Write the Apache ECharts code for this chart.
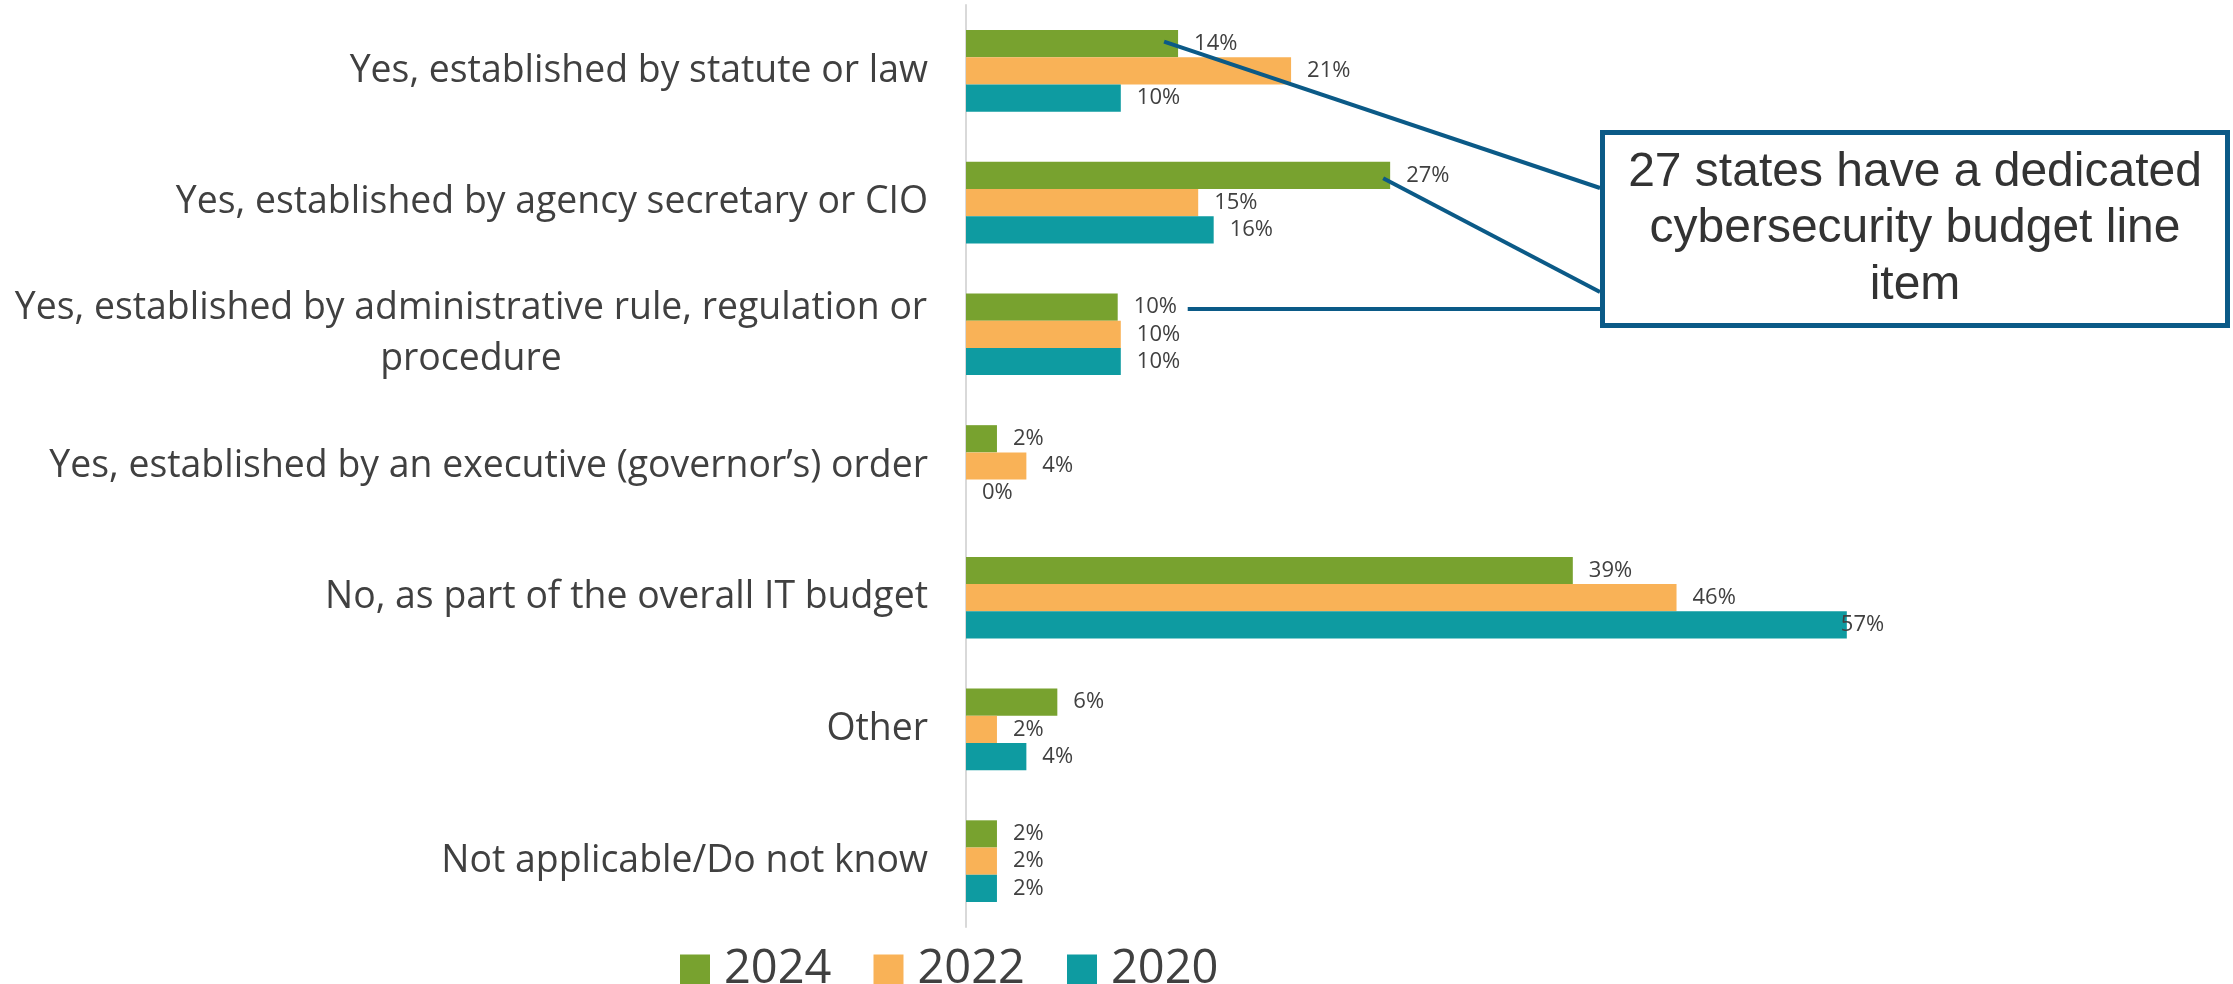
<!DOCTYPE html>
<html>
<head>
<meta charset="utf-8">
<script src="https://cdn.jsdelivr.net/npm/echarts@6/dist/echarts.min.js"></script>
<style>
html,body{margin:0;padding:0;background:#fff;}
#main{width:2233px;height:984px;}
</style>
</head>
<body>
<div id="main"></div>
<script>
const categories = [
  'Yes, established by statute or law',
  'Yes, established by agency secretary or CIO',
  'Yes, established by administrative rule, regulation or\nprocedure',
  'Yes, established by an executive (governor\u2019s) order',
  'No, as part of the overall IT budget',
  'Other',
  'Not applicable/Do not know'
];
const seriesNames = ['2024', '2022', '2020'];
const v2024 = [13.7, 27.4, 9.8, 2.0, 39.2, 5.9, 2.0];
const v2022 = [21.0, 15.0, 10.0, 3.9, 45.9, 2.0, 2.0];
const v2020 = [10.0, 16.0, 10.0, 0, 56.9, 3.9, 2.0];
const calloutText = '27 states have a dedicated\ncybersecurity budget line\nitem';

const colors = ['#78A22F', '#F9B257', '#0E9BA1'];
const textColor = '#404040';
const calloutColor = '#0B5A87';
const FONT = '"Open Sans", sans-serif';
const GAP = 0.38;

const chart = echarts.init(document.getElementById('main'));
const allValues = [v2024, v2022, v2020];

function buildSeries(k) {
  return {
    name: seriesNames[k],
    type: 'bar',
    barGap: '0%',
    barCategoryGap: (GAP * 100) + '%',
    itemStyle: { color: colors[k] },
    label: {
      show: true,
      position: 'right',
      distance: 16,
      fontFamily: FONT,
      fontSize: 22,
      color: textColor,
      formatter: p => Math.round(p.value) + '%'
    },
    data: allValues[k].map((v, i) => {
      if (k === 2 && i === 4) return { value: v, label: { distance: -6 } };
      return v;
    })
  };
}

chart.setOption({
  animation: false,
  backgroundColor: '#fff',
  grid: { left: 966, top: 5, height: 922, width: 1238.4 },
  legend: {
    data: seriesNames,
    left: 675,
    top: 941,
    icon: 'rect',
    itemWidth: 30,
    itemHeight: 30,
    itemGap: 42,
    textStyle: { fontFamily: FONT, fontSize: 47, color: textColor, lineHeight: 46, padding: [0, 0, 0, 9] }
  },
  xAxis: { type: 'value', min: 0, max: 80, show: false, splitLine: { show: false } },
  yAxis: {
    type: 'category',
    inverse: true,
    data: categories,
    axisTick: { show: false },
    axisLine: { show: true, lineStyle: { color: '#D9D9D9', width: 2 } },
    axisLabel: {
      margin: 38,
      fontFamily: FONT,
      fontSize: 37.4,
      lineHeight: 50,
      color: textColor,
      formatter: function (val) {
        if (val.indexOf('\n') >= 0) {
          return val.split('\n').map(s => '{c|' + s + '}').join('\n');
        }
        return val;
      },
      rich: {
        c: { width: 914, align: 'center', fontFamily: FONT, fontSize: 37.4, lineHeight: 51, color: textColor }
      }
    }
  },
  series: [buildSeries(0), buildSeries(1), buildSeries(2)]
});

// Annotation: connectors anchored to the data positions of the 2024 bars
function barPoint(k, i) {
  const p = chart.convertToPixel({ gridIndex: 0 }, [allValues[k][i], categories[i]]);
  const c0 = chart.convertToPixel({ gridIndex: 0 }, [0, categories[0]]);
  const c1 = chart.convertToPixel({ gridIndex: 0 }, [0, categories[1]]);
  const band = Math.abs(c1[1] - c0[1]);
  const barW = band * (1 - GAP) / 3;
  return [p[0], p[1] + (k - 1) * barW];
}

const boxX = 1600, boxY = 130, boxW = 630, boxH = 198, bw = 5;
const a1 = barPoint(0, 0), a2 = barPoint(0, 1), a3 = barPoint(0, 2);
const lineStyle = { stroke: calloutColor, lineWidth: 4 };
chart.setOption({
  graphic: [
    { type: 'line', z: 10, shape: { x1: a1[0] - 14, y1: a1[1] - 2, x2: boxX, y2: boxY + 58 }, style: lineStyle },
    { type: 'line', z: 10, shape: { x1: a2[0] - 7, y1: a2[1] + 3, x2: boxX, y2: boxY + 162 }, style: lineStyle },
    { type: 'line', z: 10, shape: { x1: a3[0] + 70, y1: a3[1] + 2, x2: boxX, y2: a3[1] + 2 }, style: lineStyle },
    { type: 'rect', z: 11, shape: { x: boxX + bw / 2, y: boxY + bw / 2, width: boxW - bw, height: boxH - bw },
      style: { fill: '#fff', stroke: calloutColor, lineWidth: bw } },
    { type: 'text', z: 12, x: boxX + boxW / 2, y: boxY + boxH / 2,
      style: { text: calloutText, font: '48px "Liberation Sans", Arial, sans-serif', fill: '#333333',
               align: 'center', verticalAlign: 'middle', textAlign: 'center', textVerticalAlign: 'middle', lineHeight: 56.5 } }
  ]
});
</script>
</body>
</html>
